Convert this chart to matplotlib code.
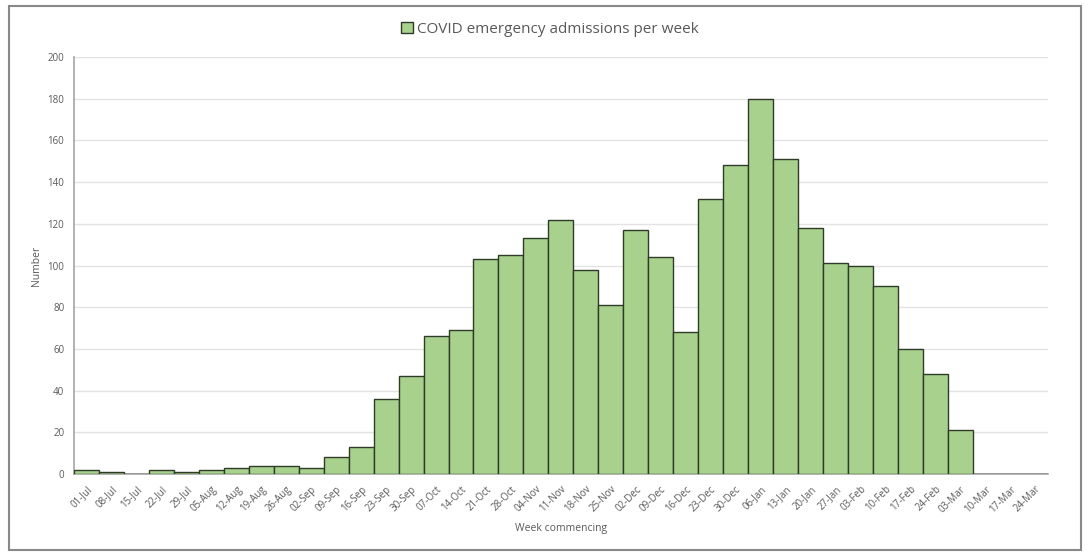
import matplotlib
matplotlib.use("Agg")
from matplotlib import pyplot as plt
from matplotlib.patches import Rectangle

plt.rcParams['font.family'] = ['Open Sans', 'DejaVu Sans']

weeks = ["01-Jul", "08-Jul", "15-Jul", "22-Jul", "29-Jul", "05-Aug", "12-Aug", "19-Aug",
         "26-Aug", "02-Sep", "09-Sep", "16-Sep", "23-Sep", "30-Sep", "07-Oct", "14-Oct",
         "21-Oct", "28-Oct", "04-Nov", "11-Nov", "18-Nov", "25-Nov", "02-Dec", "09-Dec",
         "16-Dec", "23-Dec", "30-Dec", "06-Jan", "13-Jan", "20-Jan", "27-Jan", "03-Feb",
         "10-Feb", "17-Feb", "24-Feb", "03-Mar", "10-Mar", "17-Mar", "24-Mar"]
admissions = [2, 1, 0, 2, 1, 2, 3, 4, 4, 3, 8, 13, 36, 47, 66, 69, 103, 105, 113, 122,
              98, 81, 117, 104, 68, 132, 148, 180, 151, 118, 101, 100, 90, 60, 48, 21,
              0, 0, 0]
y_ticks = [0, 20, 40, 60, 80, 100, 120, 140, 160, 180, 200]

text_col = "#595959"

fig = plt.figure(figsize=(10.89, 5.54), dpi=100)
fig.patches.append(Rectangle((0.008, 0.008), 0.985, 0.982, transform=fig.transFigure,
                             fill=False, edgecolor="#888888", linewidth=1.5))
ax = fig.add_axes([0.068, 0.1444, 0.894, 0.7526])

x = list(range(len(weeks)))
ax.bar(x, admissions, width=1.0, color="#a9d18e", edgecolor="#2e3b28", linewidth=1.0,
       label="COVID emergency admissions per week", zorder=3)

ax.set_xlim(-0.5, len(weeks) - 0.5)
ax.set_ylim(0, 200)
ax.set_yticks(y_ticks)
ax.set_xticks(x)
ax.set_xticklabels(weeks, rotation=45, ha="right", rotation_mode="anchor")
ax.tick_params(axis="both", labelsize=7, colors=text_col, length=0, pad=7)
ax.grid(axis="y", color="#e3e3e3", linewidth=1, zorder=0)

for s in ["top", "right"]:
    ax.spines[s].set_visible(False)
ax.spines["left"].set_color("#a6a6a6")
ax.spines["bottom"].set_color("#a6a6a6")
ax.spines["left"].set_linewidth(1.2)
ax.spines["bottom"].set_linewidth(1.2)

ax.set_ylabel("Number", fontsize=7.5, color=text_col, labelpad=4)
ax.set_xlabel("Week commencing", fontsize=7.5, color=text_col, labelpad=6)

leg = fig.legend(loc="center", bbox_to_anchor=(0.505, 0.947), frameon=False,
                 fontsize=11, handlelength=0.8, handleheight=0.8, handletextpad=0.3)
for t in leg.get_texts():
    t.set_color(text_col)

fig.savefig("out.png", dpi=100)
